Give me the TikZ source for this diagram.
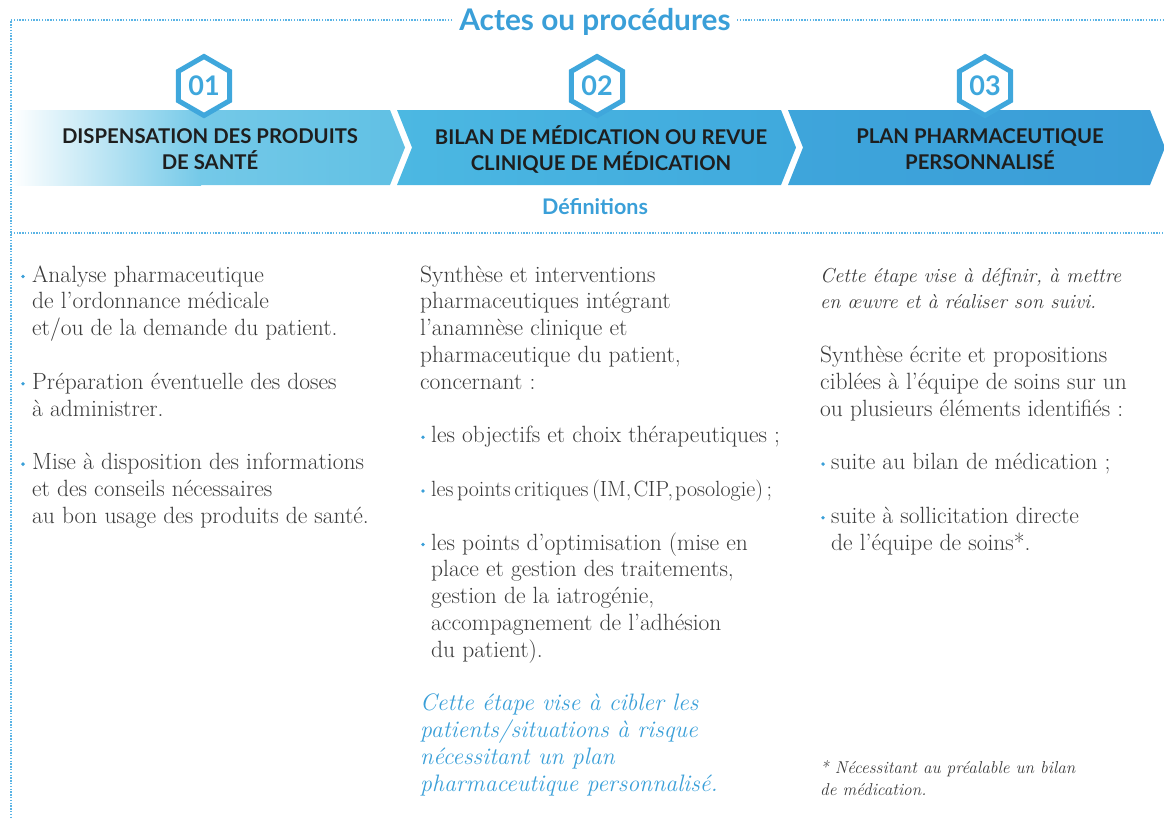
\documentclass[tikz,border=0pt]{standalone}
\usepackage{fontspec}
\newfontfamily\headfont{Lato}
\usetikzlibrary{calc}
\definecolor{ablue}{HTML}{3A9FD8}
\definecolor{dotblue}{HTML}{5AB4E5}
\definecolor{hexblue}{HTML}{3FA7DC}
\definecolor{tgray}{HTML}{3A3A3A}
\definecolor{hdark}{HTML}{1E1E1E}
\definecolor{sa}{HTML}{74C9E8}
\definecolor{sb}{HTML}{60C0E4}
\definecolor{sc}{HTML}{4CB8E2}
\definecolor{sd}{HTML}{3FA9DD}
\definecolor{se}{HTML}{3EA5DB}
\definecolor{sf}{HTML}{3A9DD7}
\begin{document}
\begin{tikzpicture}[x=1pt,y=-1pt,
  dotline/.style={draw=dotblue,line width=1.4pt,dash pattern=on 1.4pt off 1.4pt},
  hexs/.style={draw=hexblue,line width=5pt,fill=white,line join=miter},
  hexnum/.style={font=\headfont\bfseries\fontsize{27}{27}\selectfont,text=hexblue,inner sep=0},
  bantext/.style={font=\headfont\bfseries\fontsize{20.3}{26}\selectfont,text=hdark,align=center,inner sep=0},
  titletext/.style={font=\headfont\bfseries\fontsize{29.8}{30}\selectfont,text=ablue,inner sep=0},
  subtitle/.style={font=\headfont\bfseries\fontsize{21.5}{22}\selectfont,text=ablue,inner sep=0},
  body/.style={anchor=base west,align=left,inner sep=0,font=\fontsize{23.5}{26.8}\selectfont,text=tgray},
  bodytight/.style={body,font=\fontsize{22}{26.8}\selectfont},
  bodyblue/.style={body,text=ablue,font=\itshape\fontsize{23.8}{26.8}\selectfont},
  bodyit/.style={body,font=\itshape\fontsize{20.2}{26.8}\selectfont},
  foot/.style={body,font=\itshape\fontsize{17.2}{22}\selectfont},
  bul/.style={circle,fill=ablue,inner sep=0,minimum size=3.8pt}]
\useasboundingbox (0,0) rectangle (1164,817);

% dotted frame
\coordinate (tl) at (11,20);
\coordinate (tg1) at (452,20);
\coordinate (tg2) at (737,20);
\coordinate (tr) at (1164,20);
\coordinate (bl) at (11,233);
\coordinate (br) at (1164,233);
\coordinate (lb) at (11,817);
\draw[dotline] (tg1) -- (tl) -- (lb);
\draw[dotline] (tg2) -- (tr);
\draw[dotline] (bl) -- (br);
\node[titletext] (title) at (595,22) {Actes ou procédures};

% banner segments
\shade[left color=white,right color=sa] (12,110) rectangle (201,185);
\shade[left color=sa,right color=sb] (200,110) -- (390,110) -- (405,147.5) -- (390,185) -- (200,185) -- cycle;
\shade[left color=sc,right color=sd] (397,110) -- (781,110) -- (796,147.5) -- (781,185) -- (397,185) -- (412,147.5) -- cycle;
\shade[left color=se,right color=sf] (788,110) -- (1150,110) -- (1165,147.5) -- (1150,185) -- (788,185) -- (803,147.5) -- cycle;

% hexagons
\foreach \n/\x in {1/204,2/597,3/985}{
  \coordinate (h\n) at (\x,86);
  \draw[hexs] ($(h\n)+(90:29.5)$) -- ($(h\n)+(150:29.5)$) -- ($(h\n)+(210:29.5)$) -- ($(h\n)+(270:29.5)$) -- ($(h\n)+(330:29.5)$) -- ($(h\n)+(30:29.5)$) -- cycle;
}
\node[hexnum] (n1) at (h1) {01};
\node[hexnum] (n2) at (h2) {02};
\node[hexnum] (n3) at (h3) {03};

\node[bantext] (t1) at (210,149) {DISPENSATION DES PRODUITS\\DE SANTÉ};
\node[bantext] (t2) at (601,149) {BILAN DE MÉDICATION OU REVUE\\CLINIQUE DE MÉDICATION};
\node[bantext] (t3) at (980,149) {PLAN PHARMACEUTIQUE\\PERSONNALISÉ};

\node[subtitle] (def) at (595,207) {Définitions};

% column 1 (node base = baseline of last line)
\node[bul] (b11) at (23,276.5) {};
\node[body] (c11) at (32,335.6) {Analyse pharmaceutique\\de l'ordonnance médicale\\et/ou de la demande du patient.};
\node[bul] (b12) at (23,383.7) {};
\node[body] (c12) at (32,416) {Préparation éventuelle des doses\\à administrer.};
\node[bul] (b13) at (23,464.1) {};
\node[body] (c13) at (32,523.2) {Mise à disposition des informations\\et des conseils nécessaires\\au bon usage des produits de santé.};

% column 2
\node[body] (c21) at (420,389.2) {Synthèse et interventions\\pharmaceutiques intégrant\\l'anamnèse clinique et\\pharmaceutique du patient,\\concernant :};
\node[bul] (b21) at (423,437.3) {};
\node[body] (c22) at (431,442.8) {les objectifs et choix thérapeutiques ;};
\node[bul] (b22) at (423,490.9) {};
\node[bodytight] (c23) at (431,496.4) {les\hspace{0.16em}points\hspace{0.16em}critiques\hspace{0.16em}(IM,\hspace{0.1em}CIP,\hspace{0.1em}posologie)\hspace{0.16em};};
\node[bul] (b23) at (423,544.5) {};
\node[body] (c24) at (431,657.2) {les points d'optimisation (mise en\\place et gestion des traitements,\\gestion de la iatrogénie,\\accompagnement de l'adhésion\\du patient).};
\node[bodyblue] (c25) at (420,791.2) {Cette étape vise à cibler les\\patients/situations à risque\\nécessitant un plan\\pharmaceutique personnalisé.};

% column 3
\node[bodyit] (c31) at (820,308.8) {Cette étape vise à définir, à mettre\\en œuvre et à réaliser son suivi.};
\node[body] (c32) at (820,416) {Synthèse écrite et propositions\\ciblées à l'équipe de soins sur un\\ou plusieurs éléments identifiés :};
\node[bul] (b31) at (823,464.1) {};
\node[body] (c33) at (831,469.6) {suite au bilan de médication ;};
\node[bul] (b32) at (823,517.7) {};
\node[body] (c34) at (831,550) {suite à sollicitation directe\\de l'équipe de soins*.};
\node[foot] (c35) at (820,795) {* Nécessitant au préalable un bilan\\de médication.};
\end{tikzpicture}
\end{document}
